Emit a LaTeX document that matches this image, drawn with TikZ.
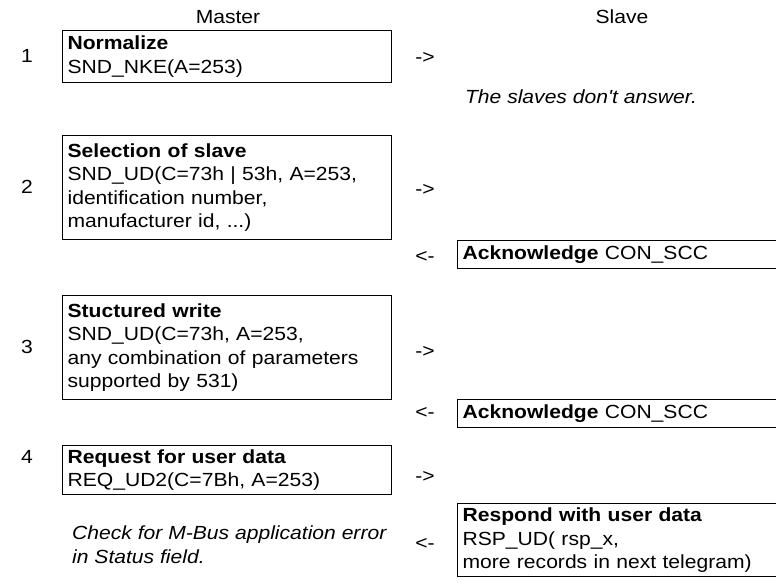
\documentclass[tikz,border=0pt]{standalone}
\usepackage{fontspec}
\setmainfont{Liberation Sans}[Ligatures=TeXOff,FakeStretch=1.11]
\begin{document}
\begin{tikzpicture}[x=1pt,y=-1pt,
  txt/.style={font=\fontsize{19}{23.5}\selectfont, inner sep=0pt},
  lbox/.style={txt, draw, line width=1.2pt, anchor=north west, align=left,
    text width=319pt, inner xsep=5pt, inner ysep=0pt},
  rbox/.style={txt, draw, line width=1.2pt, anchor=north west, align=left,
    text width=400pt, inner xsep=5pt, inner ysep=0pt}]
\useasboundingbox (0,0) rectangle (776,583);
\clip (0,0) rectangle (776,583);
% headers
\node[txt] (master) at (228,17) {Master};
\node[txt] (slave) at (622,17) {Slave};
% step 1
\node[txt] (n1) at (27,56) {1};
\node[lbox, minimum height=52pt] (b1) at (62,30) {\textbf{Normalize}\\SND\_NKE(A=253)};
\node[txt] (a1) at (425,58) {->};
\node[txt] (note1) at (581,97) {\itshape The slaves don't answer.};
% step 2
\node[txt] (n2) at (27,187) {2};
\node[lbox, minimum height=104pt] (b2) at (62,135) {\textbf{Selection of slave}\\SND\_UD(C=73h | 53h, A=253,\\identification number,\\manufacturer id, ...)};
\node[txt] (a2) at (425,190) {->};
\node[txt] (r2) at (425,257) {<-};
\node[rbox, minimum height=28pt] (ack1) at (457,240) {\textbf{Acknowledge} CON\_SCC};
% step 3
\node[txt] (n3) at (27,347) {3};
\node[lbox, minimum height=104pt] (b3) at (62,295) {\textbf{Stuctured write}\\SND\_UD(C=73h, A=253,\\any combination of parameters\\supported by 531)};
\node[txt] (a3) at (425,352) {->};
\node[txt] (r3) at (425,413) {<-};
\node[rbox, minimum height=28pt] (ack2) at (457,399) {\textbf{Acknowledge} CON\_SCC};
% step 4
\node[txt] (n4) at (27,457) {4};
\node[lbox, minimum height=49pt] (b4) at (62,445) {\textbf{Request for user data}\\REQ\_UD2(C=7Bh, A=253)};
\node[txt] (a4) at (425,477) {->};
\node[txt, anchor=north west, align=left] (note2) at (72,526) {\itshape Check for M-Bus application error\\\itshape in Status field.};
\node[txt] (r4) at (425,544) {<-};
\node[rbox, minimum height=73pt] (resp) at (457,503) {\textbf{Respond with user data}\\RSP\_UD( rsp\_x,\\more records in next telegram)};
\end{tikzpicture}
\end{document}
